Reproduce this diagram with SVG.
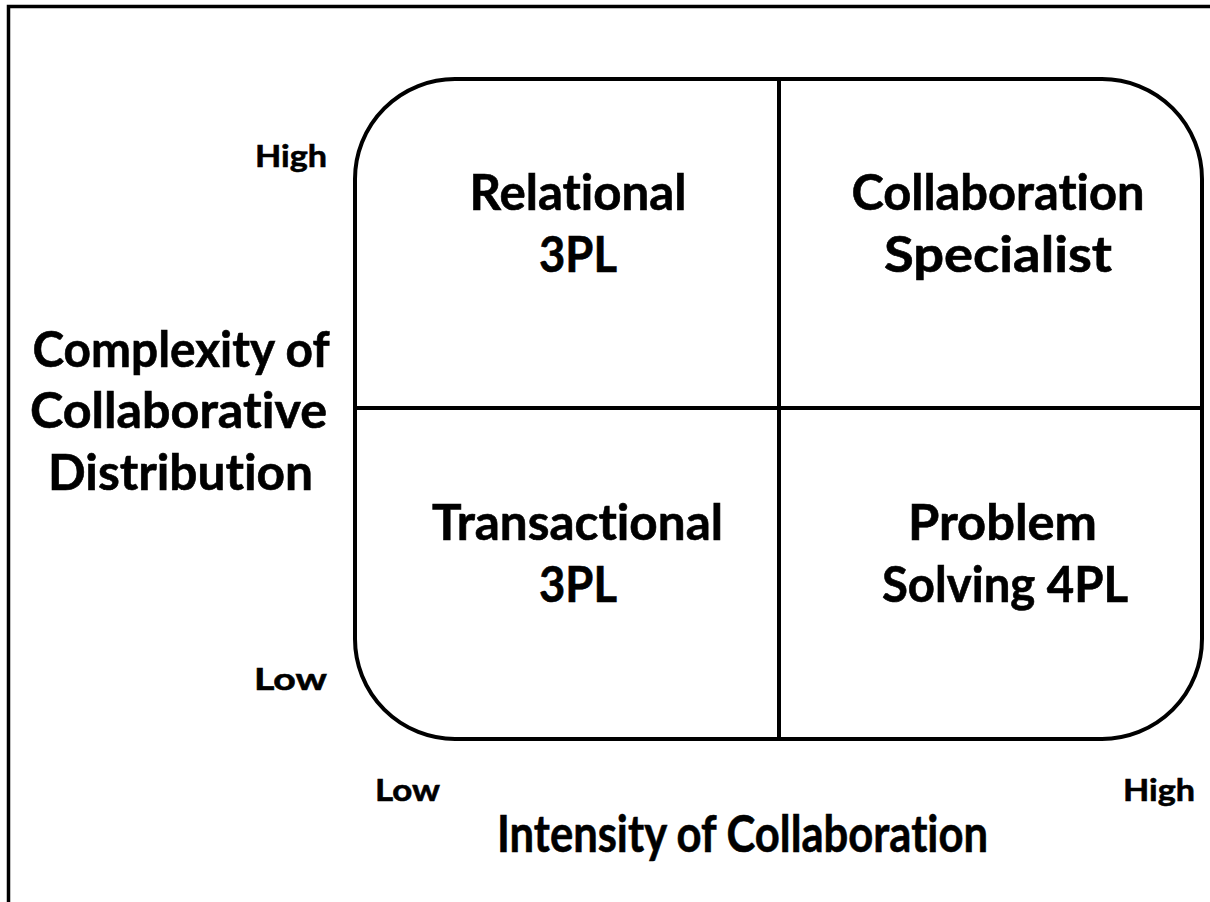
<svg xmlns="http://www.w3.org/2000/svg" width="1210" height="902" viewBox="0 0 1210 902">
  <style>
    text { font-family: Lato, "Open Sans", "Liberation Sans", sans-serif; font-weight: bold; fill: #000; font-variant-ligatures: none; stroke: #000; stroke-width: 0.6; }
    .big { font-size: 49px; text-anchor: middle; }
    .axis { font-size: 51px; text-anchor: middle; }
    .tick { font-size: 31px; }
    .frame { fill: none; stroke: #000; stroke-width: 3.5; }
    .edge { fill: none; stroke: #000; stroke-width: 4; }
  </style>
  <rect width="1210" height="902" fill="#fff"/>

  <!-- page frame: top and left edges only -->
  <path class="frame" d="M8.5,902 V6.5 H1210"/>

  <!-- matrix outline and quadrant dividers -->
  <g id="matrix">
    <rect class="edge" x="355" y="79" width="847" height="660" rx="100" ry="100"/>
  </g>
  <g id="connectors">
    <line class="edge" x1="779" y1="79" x2="779" y2="739"/>
    <line class="edge" x1="355" y1="408" x2="1202" y2="408"/>
  </g>

  <g id="q-relational">
    <text class="big" x="578" y="210" textLength="217" lengthAdjust="spacingAndGlyphs">Relational</text>
    <text class="big" x="578" y="272" textLength="78" lengthAdjust="spacingAndGlyphs">3PL</text>
  </g>
  <g id="q-collaboration">
    <text class="big" x="998" y="210" textLength="293" lengthAdjust="spacingAndGlyphs">Collaboration</text>
    <text class="big" x="998" y="272" textLength="228" lengthAdjust="spacingAndGlyphs">Specialist</text>
  </g>
  <g id="q-transactional">
    <text class="big" x="577.5" y="540" textLength="291" lengthAdjust="spacingAndGlyphs">Transactional</text>
    <text class="big" x="578" y="602" textLength="78" lengthAdjust="spacingAndGlyphs">3PL</text>
  </g>
  <g id="q-problem">
    <text class="big" x="1002.5" y="540" textLength="189" lengthAdjust="spacingAndGlyphs">Problem</text>
    <text class="big" x="1005" y="602" textLength="246" lengthAdjust="spacingAndGlyphs">Solving 4PL</text>
  </g>

  <g id="y-axis">
    <text class="big" x="181" y="367" textLength="297" lengthAdjust="spacingAndGlyphs">Complexity of</text>
    <text class="big" x="178.5" y="428" textLength="297" lengthAdjust="spacingAndGlyphs">Collaborative</text>
    <text class="big" x="180.5" y="490" textLength="265" lengthAdjust="spacingAndGlyphs">Distribution</text>
    <text class="tick" x="255" y="167" textLength="72" lengthAdjust="spacingAndGlyphs">High</text>
    <text class="tick" x="254" y="690" textLength="73" lengthAdjust="spacingAndGlyphs">Low</text>
  </g>

  <g id="x-axis">
    <text class="axis" x="742.5" y="852" textLength="491" lengthAdjust="spacingAndGlyphs">Intensity of Collaboration</text>
    <text class="tick" x="375" y="801" textLength="65" lengthAdjust="spacingAndGlyphs">Low</text>
    <text class="tick" x="1123" y="801" textLength="72" lengthAdjust="spacingAndGlyphs">High</text>
  </g>
</svg>
